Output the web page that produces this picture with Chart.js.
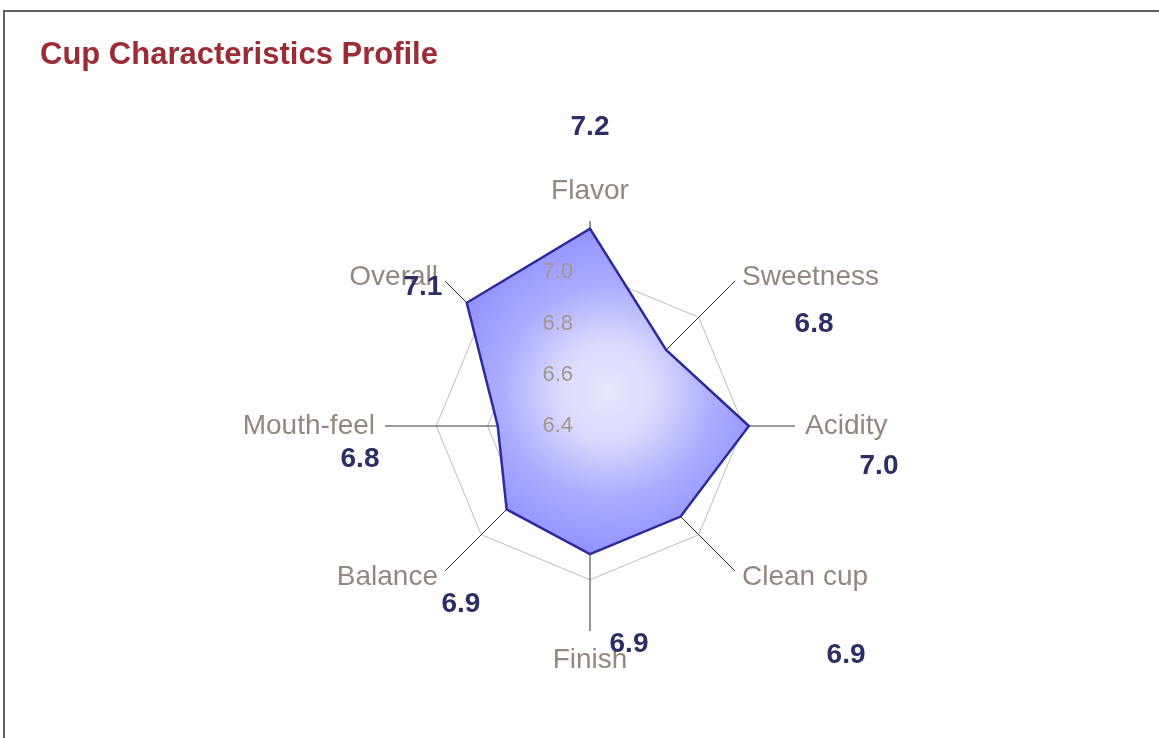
<!DOCTYPE html>
<html>
<head>
<meta charset="utf-8">
<script src="https://cdn.jsdelivr.net/npm/chart.js@4.4.1/dist/chart.umd.min.js"></script>
<style>
  html, body { margin: 0; padding: 0; background: #fff; overflow: hidden; }
  #frame { position: absolute; left: 3px; top: 10px; width: 1200px; height: 800px; border: 2px solid #5e5e5e; }
  #wrap { position: absolute; left: 0; top: 0; width: 1159px; height: 738px; }
</style>
</head>
<body>
<div id="frame"></div>
<div id="wrap"><canvas id="cup-chart"></canvas></div>
<script>
  // Cup profile data
  const attributes = ['Flavor', 'Sweetness', 'Acidity', 'Clean cup', 'Finish', 'Balance', 'Mouth-feel', 'Overall'];
  const scores = [7.17, 6.82, 7.02, 6.90, 6.90, 6.86, 6.76, 7.08];
  const tickValues = [6.4, 6.6, 6.8, 7.0];

  // nudges for the score labels, relative to each axis label anchor
  const scoreNudge = [[0, -84], [72, 50], [74, 40], [104, 77], [39, 3], [23, 26], [-15, 33], [-15, 13]];

  // Radial gradient fill over the polygon's bounding box
  function polygonFill(context) {
    const chart = context.chart;
    const scale = chart.scales && chart.scales.r;
    if (!chart.chartArea || !scale || !scale.drawingArea) return '#b8b8ff';
    const xs = [], ys = [];
    scores.forEach((v, i) => {
      const p = scale.getPointPositionForValue(i, v);
      xs.push(p.x); ys.push(p.y);
    });
    const cx = (Math.min(...xs) + Math.max(...xs)) / 2;
    const cy = (Math.min(...ys) + Math.max(...ys)) / 2;
    const rad = Math.max(Math.max(...xs) - Math.min(...xs), Math.max(...ys) - Math.min(...ys)) / 2;
    const g = chart.ctx.createRadialGradient(cx, cy, 0, cx, cy, rad);
    g.addColorStop(0, '#e6e6fd');
    g.addColorStop(0.3, '#dadafd');
    g.addColorStop(0.65, '#acacff');
    g.addColorStop(1, '#9292ff');
    return g;
  }

  // Tick labels, axis labels and score labels
  const labelPlugin = {
    id: 'cupLabels',
    afterDatasetsDraw(chart) {
      const scale = chart.scales.r;
      const ctx = chart.ctx;
      ctx.save();

      // tick values, left of the Flavor axis
      ctx.font = '22px "Liberation Sans", Arial, sans-serif';
      ctx.fillStyle = '#a4978f';
      ctx.textAlign = 'right';
      ctx.textBaseline = 'middle';
      tickValues.forEach(v => {
        const d = scale.getDistanceFromCenterForValue(v);
        ctx.fillText(v.toFixed(1), scale.xCenter - 17, scale.yCenter - d);
      });

      attributes.forEach((name, i) => {
        const pos = scale.getPointPosition(i, scale.drawingArea + 10);
        const deg = Math.round(scale.getIndexAngle(i) * 180 / Math.PI) % 360;
        let align = 'center';
        let y = pos.y;
        if (deg === 0) y -= 20;
        else if (deg === 180) y += 19;
        else {
          align = deg < 180 ? 'left' : 'right';
          if (deg !== 90 && deg !== 270) y += (deg < 90 || deg > 270) ? 3 : -1;
        }

        ctx.font = '28px "Liberation Sans", Arial, sans-serif';
        ctx.fillStyle = '#948680';
        ctx.textAlign = align;
        ctx.textBaseline = 'middle';
        ctx.fillText(name, pos.x, y);

        ctx.font = 'bold 28px "Liberation Sans", Arial, sans-serif';
        ctx.fillStyle = '#2e2e66';
        ctx.textAlign = 'center';
        ctx.fillText(scores[i].toFixed(1), pos.x + scoreNudge[i][0], pos.y + scoreNudge[i][1]);
      });
      ctx.restore();
    }
  };

  const cupCtx = document.getElementById('cup-chart').getContext('2d');
  const cupChart = new Chart(cupCtx, {
    type: 'radar',
    data: {
      labels: attributes,
      datasets: [{
        label: 'Cup Characteristics',
        data: scores,
        backgroundColor: polygonFill,
        borderColor: '#2b2b99',
        borderWidth: 2.5,
        pointRadius: 0,
        pointHoverRadius: 0,
        fill: 'start'
      }]
    },
    options: {
      responsive: true,
      maintainAspectRatio: false,
      animation: false,
      layout: {
        padding: { left: 40, right: 19, top: 0, bottom: 106 }
      },
      scales: {
        r: {
          min: 6.4,
          max: 7.2,
          ticks: { display: false, stepSize: 0.2 },
          pointLabels: { display: false },
          grid: {
            color: c => (c.tick && c.tick.value > 7.1) ? 'rgba(0,0,0,0)' : '#c4bab4',
            lineWidth: 1
          },
          angleLines: { color: '#333', lineWidth: 1 }
        }
      },
      plugins: {
        legend: { display: false },
        tooltip: { enabled: false },
        title: {
          display: true,
          text: 'Cup Characteristics Profile',
          align: 'start',
          color: '#9b2b34',
          font: { family: '"Liberation Sans", Arial, sans-serif', size: 31, weight: 'bold', lineHeight: 1.2 },
          padding: { top: 37, bottom: 146 }
        }
      }
    },
    plugins: [labelPlugin]
  });
</script>
</body>
</html>
